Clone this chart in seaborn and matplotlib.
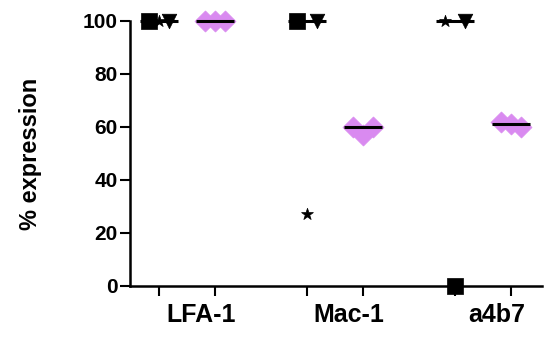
import numpy as np
import pandas as pd
import matplotlib
matplotlib.use("Agg")
import matplotlib.pyplot as plt
import seaborn as sns

# ---- data ----
antigens = ["LFA-1", "Mac-1", "a4b7"]
black_square = [100, 100, 0]
black_star = [100, 27, 100]
black_triangle = [100, 100, 100]
pink_a = [100, 60, 62]
pink_b = [100, 57, 61]
pink_c = [100, 60, 60]
yticks = [0, 20, 40, 60, 80, 100]
ylabel = "% expression"

# ---- style ----
sns.set_theme(style="ticks")
plt.rcParams["font.family"] = ["Liberation Sans", "DejaVu Sans"]
plt.rcParams["text.color"] = "black"
plt.rcParams["axes.labelcolor"] = "black"
plt.rcParams["xtick.color"] = "black"
plt.rcParams["ytick.color"] = "black"
PINK = "#D98AF0"
GROUP_GAP = 2.64     # distance between antigen groups (x units)
PAIR_GAP = 1.0       # distance between the two columns of one antigen
SPREAD = 0.36        # horizontal spread of equal-valued points
TOL = 3.0            # values closer than this are spread side by side
HALF = 0.34          # half width of median line

rows = []
for gi, ag in enumerate(antigens):
    for cond, series in (("black", [("s", black_square), ("*", black_star), ("v", black_triangle)]),
                         ("pink", [("D", pink_a), ("D", pink_b), ("D", pink_c)])):
        ci = 0 if cond == "black" else 1
        center = gi * GROUP_GAP + ci * PAIR_GAP
        for k, (mk, arr) in enumerate(series):
            rows.append(dict(antigen=ag, cond=cond, marker=mk, order=k,
                             value=arr[gi], center=center))
df = pd.DataFrame(rows)

# spread near-equal values symmetrically (swarm-like), computed from data
df["x"] = df["center"]
for (ag, cond), g in df.groupby(["antigen", "cond"]):
    idx = list(g.index)
    used = set()
    for i in idx:
        if i in used:
            continue
        cluster = [j for j in idx if j not in used and abs(df.at[j, "value"] - df.at[i, "value"]) < TOL]
        used.update(cluster)
        if len(cluster) > 1:
            offs = np.linspace(-SPREAD / 2, SPREAD / 2, len(cluster))
            for j, o in zip(cluster, offs):
                df.at[j, "x"] = df.at[j, "center"] + o

fig = plt.figure(figsize=(5.52, 3.38), dpi=100)
ax = fig.add_axes([0.2355, 0.154, 0.982 - 0.2355, 0.938 - 0.154])

sizes = {"s": 125, "*": 80, "v": 110, "D": 115}
for mk in ["s", "*", "v"]:
    sub = df[(df.cond == "black") & (df.marker == mk)]
    sns.scatterplot(data=sub, x="x", y="value", marker=mk, s=sizes[mk], color="black",
                    edgecolor="black", linewidth=0.5, ax=ax, clip_on=False, zorder=3, legend=False)
sub = df[df.cond == "pink"]
sns.scatterplot(data=sub, x="x", y="value", marker="D", s=sizes["D"], color=PINK,
                edgecolor=PINK, linewidth=0.5, ax=ax, clip_on=False, zorder=3, legend=False)

# median lines
for (ag, cond), g in df.groupby(["antigen", "cond"]):
    med = np.median(g["value"])
    c = g["center"].iloc[0]
    ax.plot([c - HALF, c + HALF], [med, med], color="black", lw=2.2, zorder=4,
            solid_capstyle="butt", clip_on=False)

centers = sorted(df["center"].unique())
ax.set_xlim(-0.518, 6.84)
ax.set_ylim(0, 100)
ax.set_xticks(centers)
ax.set_xticklabels([])
label_pos = [gi * GROUP_GAP + PAIR_GAP / 2 + 0.25 for gi in range(len(antigens))]
ax.set_xticks(label_pos, minor=True)
ax.set_xticklabels(antigens, minor=True, fontsize=18, fontweight="bold", color="black")
ax.tick_params(axis="x", which="minor", length=0, pad=12)
ax.tick_params(axis="x", which="major", length=7, width=1.5, direction="out", color="black")
ax.set_yticks(yticks)
ax.set_yticklabels([str(t) for t in yticks], fontsize=15, fontweight="bold", color="black")
ax.tick_params(axis="y", length=7, width=1.5, direction="out", pad=2, color="black")
ax.set_xlabel("")
ax.set_ylabel(ylabel, fontsize=17, fontweight="bold", color="black")
ax.yaxis.set_label_coords(-0.214, 0.5)
for s in ["top", "right"]:
    ax.spines[s].set_visible(False)
for s in ["left", "bottom"]:
    ax.spines[s].set_linewidth(1.8)
    ax.spines[s].set_color("black")

fig.savefig("out.png", dpi=100)
